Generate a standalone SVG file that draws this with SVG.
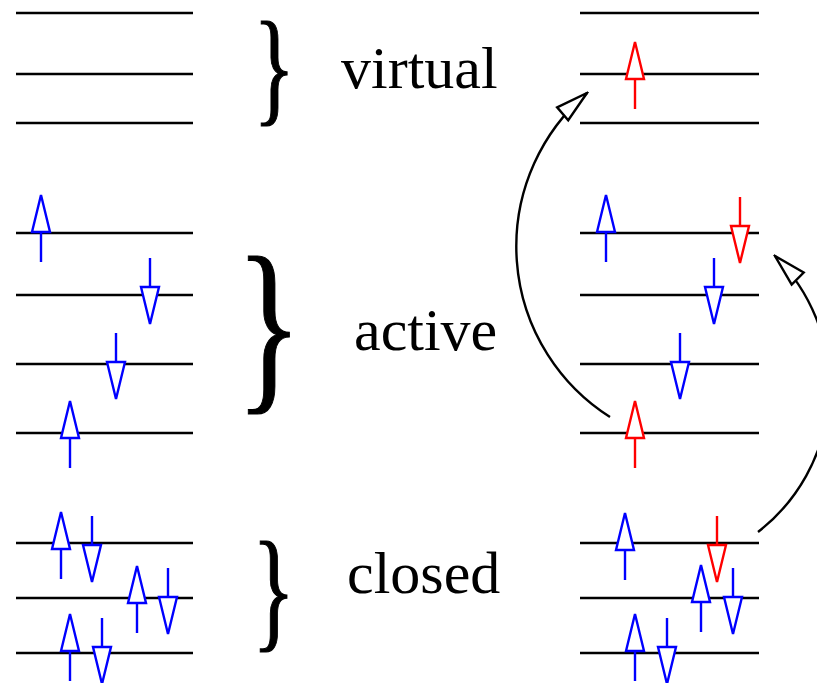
<svg xmlns="http://www.w3.org/2000/svg" xmlns:xlink="http://www.w3.org/1999/xlink" width="817" height="683" viewBox="0 0 817 683">
<style>
.lvl{stroke:#000;stroke-width:2.6;fill:none}
.b{stroke:#0000ff;stroke-width:2.4}
.r{stroke:#ff0000;stroke-width:2.4}
.lbl{font-family:"Liberation Serif","Times New Roman",serif;font-size:60px;fill:#000}
.br{font-family:"Liberation Serif","Times New Roman",serif;fill:#000;stroke:#000;stroke-width:1.2}
.cv{stroke:#000;stroke-width:2.4;fill:none}
</style>
<defs>
<g id="up"><polygon points="0,0 -9,37 9,37" fill="#fff"/><line x1="0" y1="37" x2="0" y2="67"/></g>
<g id="dn"><line x1="0" y1="0" x2="0" y2="29"/><polygon points="-9,29 9,29 0,66" fill="#fff"/></g>
<marker id="oh" viewBox="0 0 36 22" refX="34" refY="11" markerWidth="36" markerHeight="22" markerUnits="userSpaceOnUse" orient="auto">
<polygon points="2,2.5 34,11 2,19.5" fill="#fff" stroke="#000" stroke-width="2.4"/>
</marker>
</defs>
<g id="levels-left">
<line class="lvl" x1="16" y1="13" x2="193" y2="13"/>
<line class="lvl" x1="16" y1="74" x2="193" y2="74"/>
<line class="lvl" x1="16" y1="123" x2="193" y2="123"/>
<line class="lvl" x1="16" y1="233" x2="193" y2="233"/>
<line class="lvl" x1="16" y1="295" x2="193" y2="295"/>
<line class="lvl" x1="16" y1="364" x2="193" y2="364"/>
<line class="lvl" x1="16" y1="433" x2="193" y2="433"/>
<line class="lvl" x1="16" y1="543" x2="193" y2="543"/>
<line class="lvl" x1="16" y1="598" x2="193" y2="598"/>
<line class="lvl" x1="16" y1="653" x2="193" y2="653"/>
</g>
<g id="levels-right">
<line class="lvl" x1="580" y1="13" x2="759" y2="13"/>
<line class="lvl" x1="580" y1="74" x2="759" y2="74"/>
<line class="lvl" x1="580" y1="123" x2="759" y2="123"/>
<line class="lvl" x1="580" y1="233" x2="759" y2="233"/>
<line class="lvl" x1="580" y1="295" x2="759" y2="295"/>
<line class="lvl" x1="580" y1="364" x2="759" y2="364"/>
<line class="lvl" x1="580" y1="433" x2="759" y2="433"/>
<line class="lvl" x1="580" y1="543" x2="759" y2="543"/>
<line class="lvl" x1="580" y1="598" x2="759" y2="598"/>
<line class="lvl" x1="580" y1="653" x2="759" y2="653"/>
</g>
<g id="spins-left">
<use href="#up" class="b" x="41" y="195"/>
<use href="#dn" class="b" x="150" y="258"/>
<use href="#dn" class="b" x="116" y="333"/>
<use href="#up" class="b" x="70" y="401"/>
<use href="#up" class="b" x="61" y="512"/>
<use href="#dn" class="b" x="92" y="516"/>
<use href="#up" class="b" x="137" y="566"/>
<use href="#dn" class="b" x="168" y="568"/>
<use href="#up" class="b" x="70" y="614"/>
<use href="#dn" class="b" x="102" y="618"/>
</g>
<g id="spins-right">
<use href="#up" class="r" x="635" y="42"/>
<use href="#up" class="b" x="606" y="195"/>
<use href="#dn" class="r" x="740" y="197"/>
<use href="#dn" class="b" x="714" y="258"/>
<use href="#dn" class="b" x="680" y="333"/>
<use href="#up" class="r" x="635" y="401"/>
<use href="#up" class="b" x="625" y="513"/>
<use href="#dn" class="r" x="717" y="516"/>
<use href="#up" class="b" x="701" y="565"/>
<use href="#dn" class="b" x="733" y="568"/>
<use href="#up" class="b" x="635" y="614"/>
<use href="#dn" class="b" x="667" y="618"/>
</g>
<g id="brace-virtual"><text class="br" transform="translate(253.2,109.1) scale(0.684,1)" x="0" y="0" font-size="127.3">}</text></g>
<g id="brace-active"><text class="br" transform="translate(235.8,388.2) scale(0.723,1)" x="0" y="0" font-size="190.9">}</text></g>
<g id="brace-closed"><text class="br" transform="translate(252,634.4) scale(0.675,1)" x="0" y="0" font-size="133.3">}</text></g>
<g id="label-virtual"><text class="lbl" x="341" y="88">virtual</text></g>
<g id="label-active"><text class="lbl" x="354" y="350">active</text></g>
<g id="label-closed"><text class="lbl" x="347" y="593">closed</text></g>
<g id="connectors">
<path class="cv" d="M610,417 A202,202 0 0 1 587,93" marker-end="url(#oh)"/>
<path class="cv" d="M758,532 A184,184 0 0 0 775,256" marker-end="url(#oh)"/>
</g>
</svg>
